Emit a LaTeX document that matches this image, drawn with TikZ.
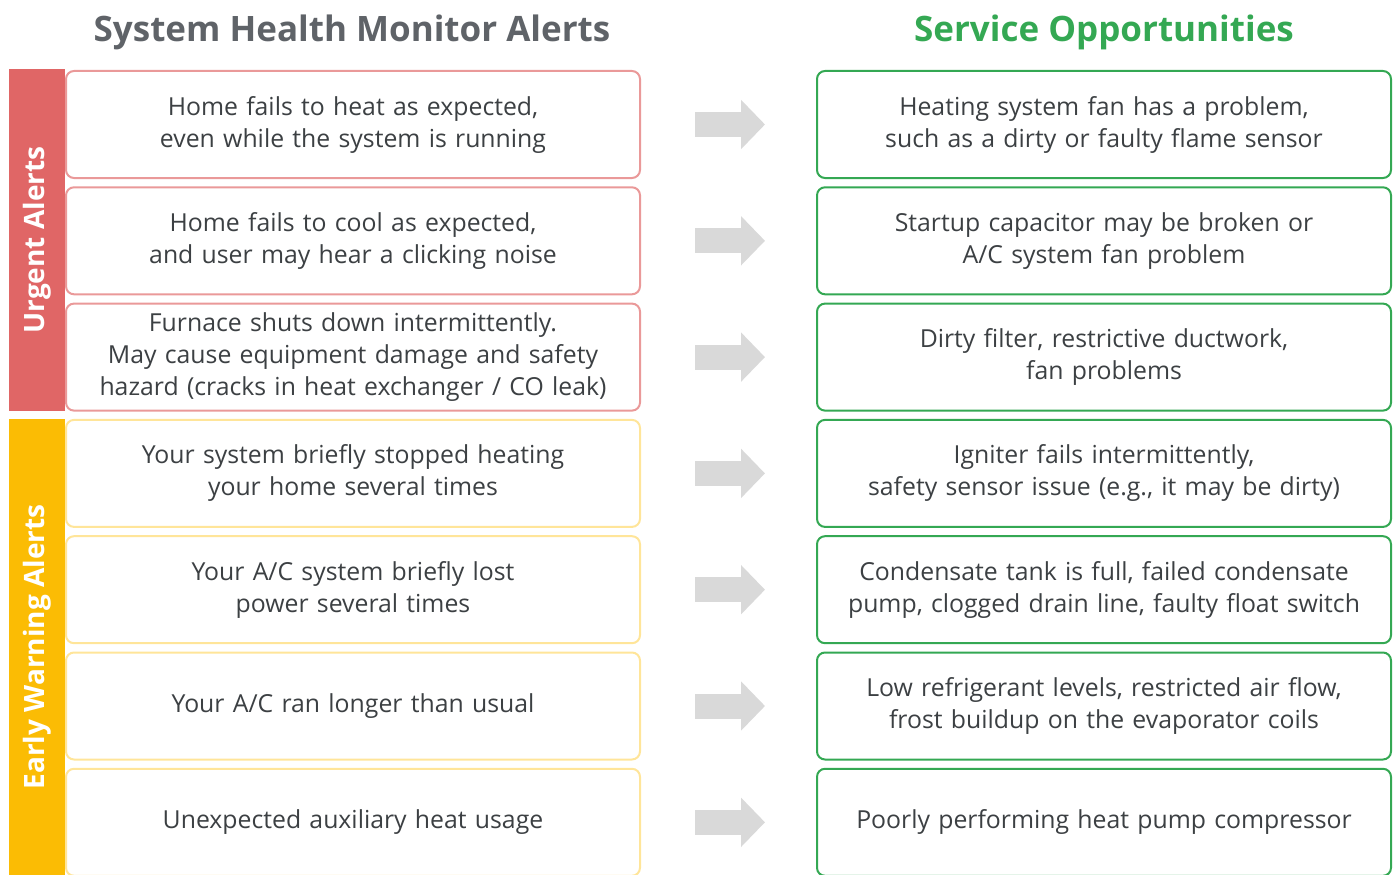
\documentclass[tikz,border=0pt]{standalone}
\usepackage{fontspec}
\setmainfont{Open Sans}
\usepackage{xcolor}
\usepackage{tikz}
\usetikzlibrary{positioning, calc, arrows.meta}
\definecolor{textgray}{HTML}{3C4043}
\definecolor{titlegray}{HTML}{5F6368}
\definecolor{urgentred}{HTML}{E06666}
\definecolor{urgentline}{HTML}{EA9999}
\definecolor{warnyellow}{HTML}{FBBC04}
\definecolor{warnline}{HTML}{FFE599}
\definecolor{servicegreen}{HTML}{34A853}
\definecolor{arrowgray}{HTML}{D9D9D9}
\tikzstyle{alertbox} = [rectangle, rounded corners=8pt, minimum width=574pt, minimum height=107pt, text width=566pt, align=center, line width=2pt, fill=white, text=textgray, font=\fontsize{24.8}{32}\selectfont]
\tikzstyle{urgent} = [alertbox, draw=urgentline]
\tikzstyle{warning} = [alertbox, draw=warnline]
\tikzstyle{service} = [alertbox, draw=servicegreen]
\tikzstyle{sidebar} = [rectangle, rotate=90, minimum height=56pt, inner sep=0pt, text=white, font=\bfseries\fontsize{28}{30}\selectfont]
\tikzstyle{heading} = [font=\bfseries\fontsize{35}{40}\selectfont]
\tikzstyle{bigarrow} = [line width=25pt, draw=arrowgray, -{Triangle[length=24pt, width=48pt]}]

\begin{document}
\begin{tikzpicture}[x=1pt, y=-1pt, node distance=7.3pt]
    \useasboundingbox (0,0) rectangle (1395,875);
    % Headings
    \node[heading, text=titlegray] (lefttitle) at (352,32) {System Health Monitor Alerts};
    \node[heading, text=servicegreen] (righttitle) at (1104,32) {Service Opportunities};

    % Side bars
    \node[sidebar, fill=urgentred, minimum width=342pt] (urgentbar) at (37,240) {Urgent Alerts};
    \node[sidebar, fill=warnyellow, minimum width=456pt] (warnbar) at (37,647) {Early Warning Alerts};

    % Alerts
    \node[urgent] (l1) at (353,124.5) {Home fails to heat as expected,\\even while the system is running};
    \node[urgent, below=of l1] (l2) {Home fails to cool as expected,\\and user may hear a clicking noise};
    \node[urgent, below=of l2] (l3) {Furnace shuts down intermittently.\\May cause equipment damage and safety\\hazard (cracks in heat exchanger / CO leak)};
    \node[warning, below=of l3] (l4) {Your system briefly stopped heating\\your home several times};
    \node[warning, below=of l4] (l5) {Your A/C system briefly lost\\power several times};
    \node[warning, below=of l5] (l6) {Your A/C ran longer than usual};
    \node[warning, below=of l6] (l7) {Unexpected auxiliary heat usage};

    % Service opportunities
    \node[service, right=175pt of l1] (r1) {Heating system fan has a problem,\\such as a dirty or faulty flame sensor};
    \node[service, right=175pt of l2] (r2) {Startup capacitor may be broken or\\A/C system fan problem};
    \node[service, right=175pt of l3] (r3) {Dirty filter, restrictive ductwork,\\fan problems};
    \node[service, right=175pt of l4] (r4) {Igniter fails intermittently,\\safety sensor issue (e.g., it may be dirty)};
    \node[service, right=175pt of l5] (r5) {Condensate tank is full, failed condensate\\pump, clogged drain line, faulty float switch};
    \node[service, right=175pt of l6] (r6) {Low refrigerant levels, restricted air flow,\\frost buildup on the evaporator coils};
    \node[service, right=175pt of l7] (r7) {Poorly performing heat pump compressor};

    % Arrows
    \foreach \i in {1,...,7}
        \draw[bigarrow] ($(l\i.east)+(54,0)$) -- ($(r\i.west)+(-51,0)$);

\end{tikzpicture}
\end{document}
